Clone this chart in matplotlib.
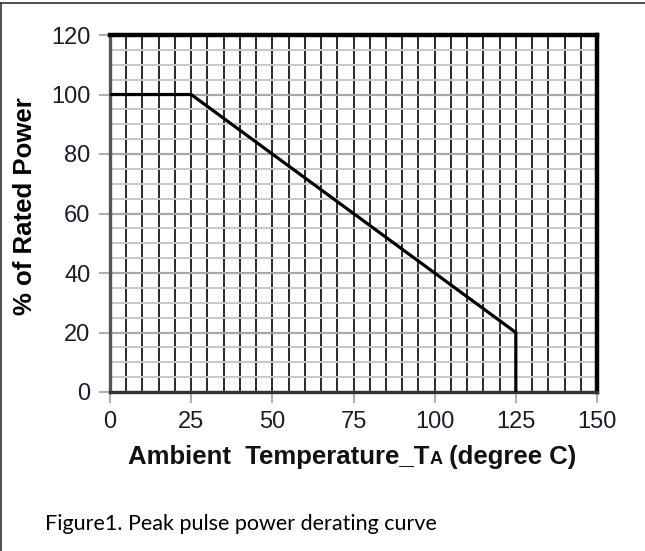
import matplotlib
matplotlib.use("Agg")
import matplotlib.pyplot as plt
from matplotlib.lines import Line2D
from matplotlib.ticker import MultipleLocator

# derating curve
temperature = [0, 25, 125, 125]
rated_power = [100, 100, 20, 0]

x_ticks = [0, 25, 50, 75, 100, 125, 150]
y_ticks = [0, 20, 40, 60, 80, 100, 120]

plt.rcParams["font.family"] = "Liberation Sans"

W, H = 645, 551
fig = plt.figure(figsize=(W / 100, H / 100), dpi=100)
ax = fig.add_axes([110 / W, 1 - 392 / H, (597 - 110) / W, (392 - 35) / H])

ax.set_xlim(0, 150)
ax.set_ylim(0, 120)
ax.xaxis.set_minor_locator(MultipleLocator(5))
ax.yaxis.set_minor_locator(MultipleLocator(5))
ax.set_xticks(x_ticks)
ax.set_xticklabels([str(v) for v in x_ticks], fontsize=17)
ax.set_yticks(y_ticks)
ax.set_yticklabels([str(v) for v in y_ticks], fontsize=17)

ax.grid(True, axis="y", which="minor", color="#c8c8c8", lw=1.4)
ax.grid(True, axis="y", which="major", color="#a8a8a8", lw=1.6)
ax.grid(True, axis="x", which="both", color="#2a2a2a", lw=1.4)
ax.set_axisbelow(True)

ax.plot(temperature, rated_power, color="black", lw=2.3, solid_joinstyle="miter", zorder=3)

for side in ("top", "right"):
    ax.spines[side].set_linewidth(3.2)
    ax.spines[side].set_color("black")
ax.spines["left"].set_linewidth(2.4)
ax.spines["left"].set_color("#555555")
ax.spines["bottom"].set_linewidth(2.4)
ax.spines["bottom"].set_color("#333333")

ax.tick_params(which="major", direction="out", length=8, width=1.2, color="#a0a0a0",
               labelcolor="#1c1c2a", pad=6)
ax.tick_params(which="minor", length=0)

ax.set_ylabel("% of Rated Power", fontsize=18.5, fontweight="bold")
ax.yaxis.set_label_coords(-0.15, 0.52)

# x label in three pieces so the small "A" sits on the same baseline
renderer = fig.canvas.get_renderer()
lab_kw = dict(fontweight="bold", color="#111111", va="baseline", ha="left")
base_y = 1 - 464 / H
x_px = 128
for piece, size in [("Ambient  Temperature_T", 18.5), ("A", 13), (" (degree C)", 18.5)]:
    t = fig.text(x_px / W, base_y, piece, fontsize=size, **lab_kw)
    x_px = t.get_window_extent(renderer).x1

fig.text(45 / W, 1 - 524 / H, "Figure1. Peak pulse power derating curve",
         ha="left", va="center", fontsize=15.5, fontfamily="Lato", color="black")

# outer frame (top and left edges only)
fig.add_artist(Line2D([0, 1], [1 - 3 / H, 1 - 3 / H], transform=fig.transFigure,
                      color="#333333", lw=1.2))
fig.add_artist(Line2D([1 / W, 1 / W], [0, 1 - 3 / H], transform=fig.transFigure,
                      color="#333333", lw=1.2))

fig.savefig("out.png", dpi=100)
